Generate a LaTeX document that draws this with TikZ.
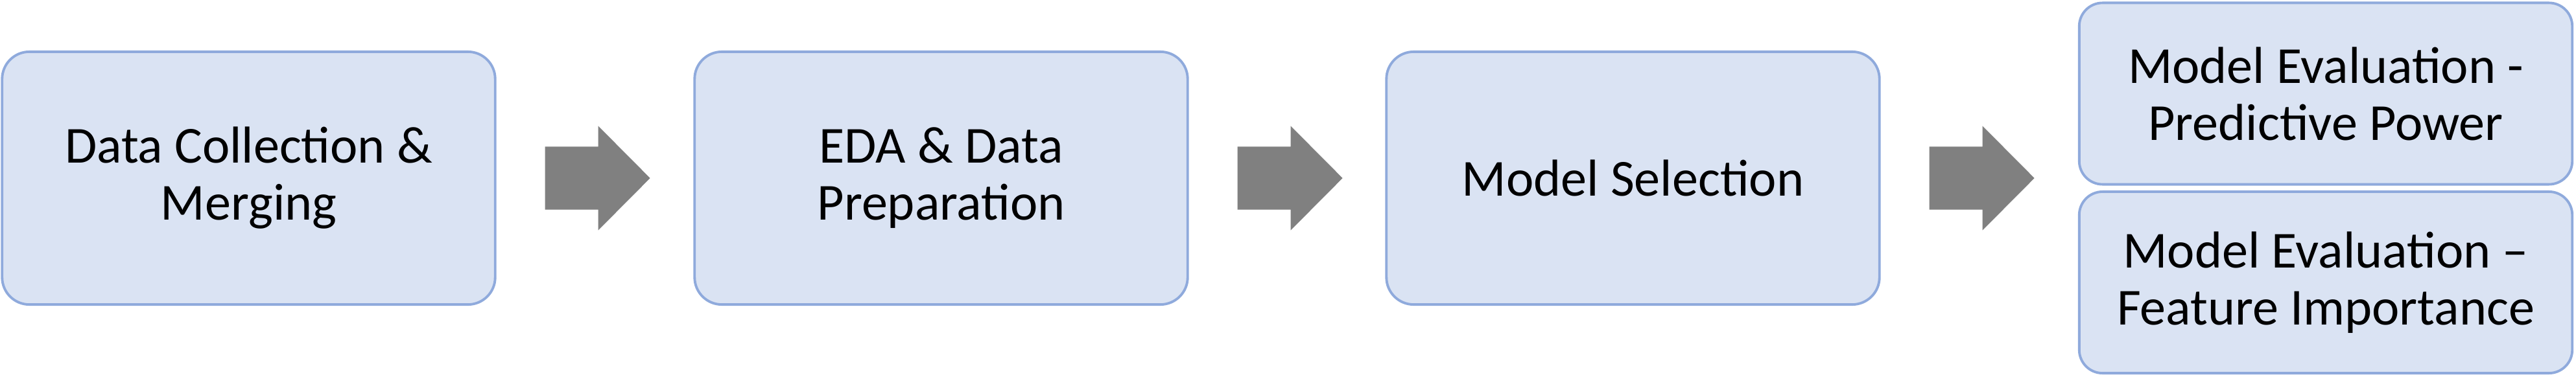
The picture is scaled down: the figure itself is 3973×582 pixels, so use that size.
\documentclass[tikz,border=0pt]{standalone}
\usepackage{fontspec}
\setmainfont{Carlito}
\usetikzlibrary{calc}
\definecolor{boxfill}{HTML}{DAE3F3}
\definecolor{boxline}{HTML}{8FAADC}
\definecolor{arrowgray}{HTML}{808080}
\tikzset{
  stepbox/.style={draw=boxline, fill=boxfill, line width=1.1pt, rounded corners=0.42cm,
    minimum width=7.60cm, minimum height=3.90cm, inner sep=0pt, align=center,
    font=\fontsize{22.8pt}{25.0pt}\selectfont},
  evalbox/.style={stepbox, minimum height=2.80cm, rounded corners=0.36cm},
  blockarrow/.style={fill=arrowgray, draw=none}
}
\begin{document}
\begin{tikzpicture}[x=0.01cm, y=-0.01cm]
\useasboundingbox (0,0) rectangle (3973,582);
\node[stepbox] (b1) at (383.5,275) {Data Collection \&\\Merging};
\node[stepbox] (b2) at (1451.5,275) {EDA \& Data\\Preparation};
\node[stepbox] (b3) at (2518.5,275) {Model Selection};
\node[evalbox] (b4) at (3587,144.5) {Model Evaluation -\\Predictive Power};
\node[evalbox] (b5) at (3587,436) {Model Evaluation –\\Feature Importance};
\foreach \src/\nm in {b1/a1, b2/a2, b3/a3}{
  \coordinate (\nm) at ($(\src.east)+(75,0)$);
  \fill[blockarrow] (\nm) ++(0,-48.5) -- ++(82,0) -- ++(0,-32) -- ++(80,80.5)
    -- ++(-80,80.5) -- ++(0,-32) -- ++(-82,0) -- cycle;
}
\end{tikzpicture}
\end{document}
